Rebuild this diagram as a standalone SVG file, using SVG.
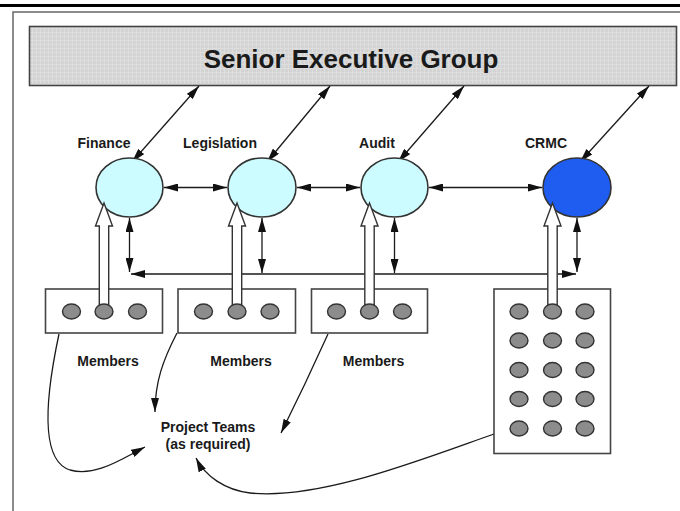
<svg xmlns="http://www.w3.org/2000/svg" width="680" height="511" viewBox="0 0 680 511">
  <defs>
    <style>
      text { font-family: "Liberation Sans", Arial, sans-serif; font-weight: bold; fill: #1a1a1a; }
      .lbl { font-size: 14px; text-anchor: middle; }
      .title { font-size: 26px; text-anchor: middle; }
      .conn { fill: none; stroke: #1a1a1a; stroke-width: 1.3; }
      .dbl { marker-start: url(#ah); marker-end: url(#ah); }
      .one { marker-end: url(#ah); }
      .comm { fill: #ccfcff; stroke: #333; stroke-width: 1.6; }
      .crmc { fill: #1f5cf0; stroke: #333; stroke-width: 1.6; }
      .box { fill: #fff; stroke: #444; stroke-width: 1.6; }
      .mem { fill: #8c8c8c; stroke: #333; stroke-width: 1.4; }
      .block { fill: #fff; stroke: #333; stroke-width: 1.4; stroke-linejoin: miter; }
    </style>
    <pattern id="grid" width="4" height="4" patternUnits="userSpaceOnUse">
      <rect width="4" height="4" fill="#d3d3d3"/>
      <path d="M0 0.5H4M0.5 0V4" stroke="#dddddd" stroke-width="1"/>
    </pattern>
    <marker id="ah" viewBox="0 0 14 8" refX="14" refY="4" markerWidth="14" markerHeight="8" markerUnits="userSpaceOnUse" orient="auto-start-reverse">
      <path d="M0,0 L14,4 L0,8 z" fill="#111"/>
    </marker>
  </defs>

  <rect width="680" height="511" fill="#fff"/>
  <!-- page rule and frame -->
  <rect x="0" y="4" width="680" height="3" fill="#000"/>
  <path d="M13 511V12H680" fill="none" stroke="#666" stroke-width="1.5"/>

  <g id="seg">
    <rect x="29.5" y="26.5" width="647" height="59" fill="url(#grid)" stroke="#444" stroke-width="1.6"/>
    <text class="title" x="351" y="68">Senior Executive Group</text>
  </g>

  <g id="connectors">
    <!-- executive links -->
    <line class="conn dbl" x1="199" y1="86" x2="132" y2="162"/>
    <line class="conn dbl" x1="330" y1="86" x2="267" y2="162"/>
    <line class="conn dbl" x1="464" y1="86" x2="398" y2="162"/>
    <line class="conn dbl" x1="649" y1="86" x2="580" y2="162"/>
    <!-- committee to committee -->
    <line class="conn dbl" x1="164" y1="187.5" x2="227" y2="187.5"/>
    <line class="conn dbl" x1="297" y1="187.5" x2="360" y2="187.5"/>
    <line class="conn dbl" x1="429" y1="187.5" x2="542" y2="187.5"/>
    <!-- shared bus -->
    <line class="conn dbl" x1="129.5" y1="218" x2="129.5" y2="272"/>
    <line class="conn dbl" x1="262" y1="218" x2="262" y2="273"/>
    <line class="conn dbl" x1="394.5" y1="218" x2="394.5" y2="273"/>
    <line class="conn dbl" x1="577" y1="218" x2="577" y2="272"/>
    <line class="conn dbl" x1="131" y1="274" x2="576" y2="274"/>
    <!-- members to project teams -->
    <path class="conn one" d="M59 334C47 390 38 460 70 470C95 477 120 460 145 447"/>
    <path class="conn one" d="M177 333C163 360 155 382 155 412"/>
    <path class="conn one" d="M328 334Q305 385 281 433"/>
    <path class="conn one" d="M494 434C420 460 320 500 250 493C225 490 205 476 196 458"/>
  </g>

  <g id="finance">
    <ellipse class="comm" cx="129.5" cy="187.5" rx="33.5" ry="29.5"/>
    <text class="lbl" x="104" y="148">Finance</text>
  </g>
  <g id="legislation">
    <ellipse class="comm" cx="262" cy="187.5" rx="34" ry="29.5"/>
    <text class="lbl" x="220" y="148">Legislation</text>
  </g>
  <g id="audit">
    <ellipse class="comm" cx="394.5" cy="187.5" rx="33.5" ry="29.5"/>
    <text class="lbl" x="377" y="148">Audit</text>
  </g>
  <g id="crmc">
    <ellipse class="crmc" cx="577" cy="187.5" rx="34" ry="29.5"/>
    <text class="lbl" x="546" y="148">CRMC</text>
  </g>

  <g id="finance-members">
    <rect class="box" x="45.5" y="289" width="117" height="44"/>
    <path class="block" d="M104 203L112.5 226H108.7V306H99.3V226H95.5Z"/>
    <ellipse class="mem" cx="71.5" cy="311.5" rx="9" ry="7.5"/>
    <ellipse class="mem" cx="104" cy="311.5" rx="9" ry="7.5"/>
    <ellipse class="mem" cx="137.5" cy="311.5" rx="9" ry="7.5"/>
    <text class="lbl" x="108" y="366">Members</text>
  </g>
  <g id="legislation-members">
    <rect class="box" x="178" y="289" width="117.5" height="44"/>
    <path class="block" d="M237 203L245.5 226H241.7V306H232.3V226H228.5Z"/>
    <ellipse class="mem" cx="203.5" cy="311.5" rx="9" ry="7.5"/>
    <ellipse class="mem" cx="237" cy="311.5" rx="9" ry="7.5"/>
    <ellipse class="mem" cx="270" cy="311.5" rx="9" ry="7.5"/>
    <text class="lbl" x="241" y="366">Members</text>
  </g>
  <g id="audit-members">
    <rect class="box" x="311.5" y="289" width="116" height="44"/>
    <path class="block" d="M369.5 203L378 226H374.2V306H364.8V226H361Z"/>
    <ellipse class="mem" cx="336.5" cy="311.5" rx="9" ry="7.5"/>
    <ellipse class="mem" cx="369.5" cy="311.5" rx="9" ry="7.5"/>
    <ellipse class="mem" cx="402.5" cy="311.5" rx="9" ry="7.5"/>
    <text class="lbl" x="373.5" y="366">Members</text>
  </g>
  <g id="crmc-members">
    <rect class="box" x="494" y="289" width="116.5" height="164.5"/>
    <path class="block" d="M552.5 203L561 226H557.2V306H547.8V226H544Z"/>
    <g>
      <ellipse class="mem" cx="519" cy="311.5" rx="9" ry="7.5"/>
      <ellipse class="mem" cx="552.5" cy="311.5" rx="9" ry="7.5"/>
      <ellipse class="mem" cx="585" cy="311.5" rx="9" ry="7.5"/>
      <ellipse class="mem" cx="519" cy="340.5" rx="9" ry="7.5"/>
      <ellipse class="mem" cx="552.5" cy="340.5" rx="9" ry="7.5"/>
      <ellipse class="mem" cx="585" cy="340.5" rx="9" ry="7.5"/>
      <ellipse class="mem" cx="519" cy="370" rx="9" ry="7.5"/>
      <ellipse class="mem" cx="552.5" cy="370" rx="9" ry="7.5"/>
      <ellipse class="mem" cx="585" cy="370" rx="9" ry="7.5"/>
      <ellipse class="mem" cx="519" cy="399" rx="9" ry="7.5"/>
      <ellipse class="mem" cx="552.5" cy="399" rx="9" ry="7.5"/>
      <ellipse class="mem" cx="585" cy="399" rx="9" ry="7.5"/>
      <ellipse class="mem" cx="519" cy="428.5" rx="9" ry="7.5"/>
      <ellipse class="mem" cx="552.5" cy="428.5" rx="9" ry="7.5"/>
      <ellipse class="mem" cx="585" cy="428.5" rx="9" ry="7.5"/>
    </g>
  </g>

  <g id="project-teams">
    <text class="lbl" x="208" y="432">Project Teams</text>
    <text class="lbl" x="208" y="449">(as required)</text>
  </g>
</svg>
